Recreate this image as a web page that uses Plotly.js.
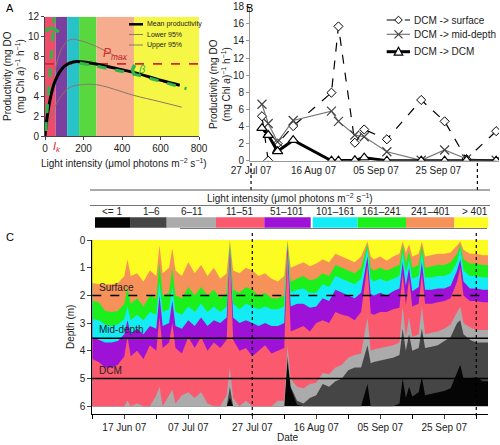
<!DOCTYPE html>
<html><head><meta charset="utf-8">
<script src="https://cdn.plot.ly/plotly-3.0.1.min.js"></script>
<style>html,body{margin:0;padding:0;background:#fff}#chart{width:500px;height:445px}</style>
</head><body><div id="chart"></div>
<script>
// ---------- Panel A data ----------
const lightMean = [0,5,15,30,50,75,100,130,165,200,250,300,370,460,550,620,700];
const meanProd  = [0,1.0,2.4,4.0,5.4,6.4,7.0,7.35,7.5,7.45,7.3,7.1,6.8,6.4,5.9,5.5,5.1];
const lightLower = [0,20,43,87,130,216,286,360,459,597,710];
const lower95    = [0,1.3,2.6,4.1,4.9,5.2,5.1,4.7,4.1,3.45,2.9];
const lightUpper = [0,26,52,87,130,182,268,355,424];
const upper95    = [0,3.6,6.6,8.8,9.7,9.6,9.0,8.15,7.7];
const alphaX = [3,48], alphaY = [0.5,12];
const betaX = [180,467,735], betaY = [7.35,6.2,4.75];
const alphaArcX = [0,35,72], alphaArcY = [10.55,10.85,10.45];
const betaArcX = [467,455,467], betaArcY = [7.15,6.65,6.1];
const pmax = 7.25;
const bandEdgesA = [0,55,115,177,267,462,800];
const bandColorsA = ['#f14b6b','#7b3f9f','#27c3c8','#58d83e','#f5ad8d','#f6f646'];

// ---------- Panel B data ----------
const sampleDates = ['2007-07-30 12:00','2007-08-01 12:00','2007-08-04 12:00','2007-08-09 12:00','2007-08-21 18:00','2007-08-24 00:00','2007-08-29 06:00','2007-09-01 06:00','2007-09-08 12:00','2007-09-19 12:00','2007-09-27 00:00','2007-10-04 00:00','2007-10-13 12:00'];
const dcmToSurface = [5.2,0,2.0,4.05,7.95,15.7,2.1,3.65,2.5,7.1,4.6,0.2,3.45];
const dcmToMid     = [6.6,4.35,2.2,4.7,5.8,4.6,3.0,2.8,1.05,0.05,1.25,0.2,0.05];
const dcmToDcm     = [3.8,3.0,1.1,2.4,0,0,0.05,0.35,0,0,0,0.05,0];
const seriesNamesB = ['DCM -&gt; surface','DCM -&gt; mid-depth','DCM -&gt; DCM'];

// ---------- Panel C data (depth of lower edge of each light class) ----------
const cDates = ['2007-06-07','2007-06-09','2007-06-11','2007-06-13','2007-06-15','2007-06-17','2007-06-18','2007-06-19','2007-06-21','2007-06-23','2007-06-25','2007-06-27','2007-06-28','2007-06-29','2007-07-01','2007-07-02','2007-07-03','2007-07-05','2007-07-07','2007-07-09','2007-07-11','2007-07-13','2007-07-15','2007-07-17','2007-07-19','2007-07-20','2007-07-21','2007-07-23','2007-07-25','2007-07-27','2007-07-29','2007-07-31','2007-08-02','2007-08-04','2007-08-06','2007-08-07','2007-08-08','2007-08-10','2007-08-12','2007-08-14','2007-08-16','2007-08-18','2007-08-20','2007-08-22','2007-08-24','2007-08-26','2007-08-28','2007-08-30','2007-09-01','2007-09-02','2007-09-03','2007-09-05','2007-09-07','2007-09-09','2007-09-11','2007-09-12','2007-09-13','2007-09-14','2007-09-15','2007-09-17','2007-09-18','2007-09-19','2007-09-21','2007-09-23','2007-09-25','2007-09-27','2007-09-29','2007-09-30','2007-10-01','2007-10-03','2007-10-05','2007-10-07','2007-10-08 16:00'];
const over401 = [1.55,1.6,1.6,1.6,1.55,1.3,0.7,1.3,1.2,1.5,1.1,1.3,0.2,1.2,1.0,0.3,1.1,1.3,0.8,1.2,0.9,1.3,1.0,1.4,1.2,0.0,1.1,1.2,1.0,1.1,1.3,1.2,1.4,1.5,1.3,0.0,1.0,0.9,0.8,0.95,0.85,0.7,0.8,0.5,0.6,0.7,0.8,0.6,0.05,0.6,0.7,0.6,0.75,0.6,0.5,0.05,0.45,0.15,0.6,0.5,0.05,0.6,0.55,0.5,0.5,0.45,0.2,0.05,0.35,0.5,0.5,0.55,0.55];
const c241_401 = [2.2,2.25,2.55,2.6,2.55,2.3,1.7,2.3,2.1,2.4,2.0,2.1,0.8,2.0,1.9,1.0,2.0,2.1,1.7,2.0,1.7,2.0,1.8,2.1,1.9,0.05,1.8,1.9,1.7,1.8,2.0,1.9,2.1,2.1,2.0,0.05,1.5,1.4,1.3,1.45,1.4,1.2,1.3,0.9,1.0,1.1,1.2,1.0,0.15,1.0,1.1,1.0,1.1,1.0,0.9,0.15,0.85,0.4,1.0,0.9,0.15,1.0,0.95,0.9,0.9,0.8,0.5,0.15,0.7,0.85,0.85,0.9,0.9];
const c161_241 = [2.85,2.9,3.05,3.1,3.05,2.85,2.4,2.9,2.7,2.9,2.6,2.7,1.5,2.6,2.5,1.7,2.6,2.7,2.4,2.6,2.3,2.6,2.4,2.6,2.4,0.1,2.3,2.5,2.3,2.4,2.5,2.4,2.5,2.5,2.4,0.1,1.9,1.8,1.75,1.9,1.9,1.6,1.7,1.3,1.4,1.5,1.6,1.4,0.3,1.4,1.5,1.4,1.5,1.4,1.3,0.45,1.2,0.7,1.4,1.3,0.45,1.35,1.35,1.3,1.3,1.2,0.8,0.3,1.1,1.3,1.3,1.35,1.35];
const c101_161 = [3.5,3.6,3.7,3.7,3.65,3.4,2.9,3.4,3.2,3.4,3.1,3.2,2.0,3.1,3.0,2.2,3.1,3.2,2.9,3.1,2.8,3.1,2.9,3.0,2.8,0.15,2.8,3.0,2.9,3.0,3.1,3.0,3.1,3.1,3.0,0.15,2.4,2.3,2.3,2.45,2.4,2.1,2.2,1.8,1.9,2.0,2.1,1.9,0.6,1.95,2.0,1.9,2.0,1.85,1.75,0.8,1.65,1.0,1.85,1.7,0.8,1.8,1.8,1.75,1.75,1.65,1.1,0.7,1.5,1.75,1.75,1.8,1.8];
const c51_101 = [4.3,4.4,4.6,4.6,4.5,4.2,3.5,4.2,4.0,4.3,3.8,4.0,2.8,3.9,3.7,3.0,3.9,4.1,3.5,3.9,3.5,4.0,3.7,3.9,3.6,0.25,3.6,4.0,3.9,4.2,4.0,3.8,4.1,4.0,3.9,0.3,3.3,3.2,3.1,3.3,3.0,2.9,3.0,2.6,2.7,2.75,2.9,2.6,0.9,2.65,2.7,2.6,2.6,2.5,2.45,1.2,2.35,1.4,2.4,2.3,1.2,2.3,2.3,2.25,2.2,2.1,1.5,1.0,2.0,2.2,2.2,2.25,2.25];
const c11_51 = [6,6,6,6,6,6,5.8,6,5.9,6,6,5.6,5.3,6,5.6,5.4,5.9,5.6,5.5,5.7,5.5,5.9,6,6,5.6,4.6,5.7,6,5.8,6,6,6,6,5.8,5.8,3.8,5.0,5.3,5.35,5.2,5.15,4.8,4.85,4.6,4.5,4.25,4.15,4.1,2.8,4.0,3.95,3.9,3.85,3.8,3.7,2.4,3.5,2.8,3.5,3.4,2.4,3.4,3.35,3.3,3.2,3.05,2.6,2.4,3.0,3.15,3.25,3.25,3.25];
const c6_11 = [6,6,6,6,6,6,6,6,6,6,6,6,6,6,6,6,6,6,6,6,6,6,6,6,6,5.3,6,6,6,6,6,6,6,6,6,4.2,5.3,5.8,5.9,5.7,5.6,5.2,5.3,5.1,5.0,4.7,4.6,4.6,3.8,4.45,4.4,4.35,4.3,4.25,4.15,3.2,4.0,3.4,4.0,3.9,3.2,3.9,3.85,3.8,3.65,3.5,3.0,2.9,3.4,3.6,3.7,3.7,3.7];
const c1_6 = [6,6,6,6,6,6,6,6,6,6,6,6,6,6,6,6,6,6,6,6,6,6,6,6,6,5.7,6,6,6,6,6,6,6,6,6,4.4,5.35,5.95,6,6,6,6,6,6,6,6,6,6,5.2,6,6,6,6,6,5.9,5.0,5.7,5.3,5.65,5.5,4.95,5.6,5.55,5.5,5.45,5.35,4.8,4.5,5.0,5.0,4.95,5.1,5.1];
const floorDepth = 6.0;
const surfaceDepth = 2.0, midDepth = 3.55, dcmDepth = 5.0;

const classLabels = ['&lt;= 1','1–6','6–11','11–51','51–101','101–161','161–241','241–401','&gt; 401'];
const classColors = ['#050505','#454545','#ababab','#fb5a6e','#9d12d6','#14ecf5','#1cf01c','#f7915a','#fcfc22'];

// ---------- helpers (pixel -> paper) ----------
const W = 500, H = 445;
const px = v => v / W, py = v => 1 - v / H;
const FONT = 'Liberation Sans, Arial, sans-serif';
const pathPx = pts => 'M ' + pts.map(p => px(p[0]).toFixed(5) + ',' + py(p[1]).toFixed(5)).join(' L ') + ' Z';

const traces = [];
// Panel A
traces.push({x: lightLower, y: lower95, xaxis:'x', yaxis:'y', mode:'lines', line:{color:'#8a7866', width:1, shape:'spline'}, showlegend:false, hoverinfo:'skip'});
traces.push({x: lightUpper, y: upper95, xaxis:'x', yaxis:'y', mode:'lines', line:{color:'#8a7866', width:1, shape:'spline'}, showlegend:false, hoverinfo:'skip'});
traces.push({x: lightMean, y: meanProd, xaxis:'x', yaxis:'y', mode:'lines', line:{color:'#000', width:3, shape:'spline', smoothing:0.6}, showlegend:false, hoverinfo:'skip'});
traces.push({x: alphaX, y: alphaY, xaxis:'x', yaxis:'y', mode:'lines', line:{color:'#2fb54a', width:3, dash:'dash'}, showlegend:false, hoverinfo:'skip'});
traces.push({x: betaX, y: betaY, xaxis:'x', yaxis:'y', mode:'lines', line:{color:'#2fb54a', width:3, dash:'dash', shape:'spline'}, showlegend:false, hoverinfo:'skip'});
traces.push({x: alphaArcX, y: alphaArcY, xaxis:'x', yaxis:'y', mode:'lines', line:{color:'#2fb54a', width:3.5, shape:'spline'}, showlegend:false, hoverinfo:'skip'});
traces.push({x: betaArcX, y: betaArcY, xaxis:'x', yaxis:'y', mode:'lines', line:{color:'#2fb54a', width:3.5, shape:'spline'}, showlegend:false, hoverinfo:'skip'});

// Panel B
traces.push({x: sampleDates, y: dcmToSurface, xaxis:'x2', yaxis:'y2', mode:'lines+markers', name:seriesNamesB[0], showlegend:false,
  line:{color:'#000', width:1.2, dash:'dash'}, marker:{symbol:'diamond', size:7, color:'#fff', line:{color:'#000', width:1}}});
traces.push({x: sampleDates, y: dcmToMid, xaxis:'x2', yaxis:'y2', mode:'lines+markers', name:seriesNamesB[1], showlegend:false,
  line:{color:'#777', width:1.2}, marker:{symbol:'x-thin', size:9, color:'#444', line:{color:'#444', width:1.2}}});
traces.push({x: sampleDates, y: dcmToDcm, xaxis:'x2', yaxis:'y2', mode:'lines+markers', name:seriesNamesB[2], showlegend:false,
  line:{color:'#000', width:3}, marker:{symbol:'triangle-up', size:9, color:'#fff', line:{color:'#000', width:1.2}}});

// Panel C stacked light-class areas
const floorArr = cDates.map(() => floorDepth);
const cLayers = [floorArr, c1_6, c6_11, c11_51, c51_101, c101_161, c161_241, c241_401, over401];
cLayers.forEach((arr, i) => {
  traces.push({x: cDates, y: arr, xaxis:'x3', yaxis:'y3', mode:'lines', line:{width:0, color:classColors[i]},
    fill:'tozeroy', fillcolor:classColors[i], showlegend:false, hoverinfo:'skip'});
});

const shapes = [];
const annotations = [];
const note = (o) => annotations.push(Object.assign({showarrow:false, xanchor:'center', yanchor:'middle'}, o));

bandColorsA.forEach((c, i) => shapes.push({type:'rect', xref:'x', yref:'y', x0:bandEdgesA[i], x1:bandEdgesA[i+1], y0:0, y1:12, fillcolor:c, line:{width:0}, layer:'below'}));
shapes.push({type:'line', xref:'x', yref:'y', x0:0, x1:800, y0:pmax, y1:pmax, line:{color:'#d8262a', width:1.8, dash:'dash'}, layer:'below'});
// A legend (drawn by hand: samples + labels)
shapes.push({type:'line', xref:'paper', yref:'paper', x0:px(129), x1:px(143), y0:py(24.3), y1:py(24.3), line:{color:'#000', width:2.5}});
shapes.push({type:'line', xref:'paper', yref:'paper', x0:px(129), x1:px(143), y0:py(34.5), y1:py(34.5), line:{color:'#8a7866', width:1}});
shapes.push({type:'line', xref:'paper', yref:'paper', x0:px(129), x1:px(143), y0:py(45), y1:py(45), line:{color:'#8a7866', width:1}});
note({xref:'paper', yref:'paper', x:px(145), y:py(24.3), text:'Mean productivity', xanchor:'left', font:{size:7, color:'#222'}});
note({xref:'paper', yref:'paper', x:px(145), y:py(34.5), text:'Lower 95%', xanchor:'left', font:{size:7, color:'#222'}});
note({xref:'paper', yref:'paper', x:px(145), y:py(45), text:'Upper 95%', xanchor:'left', font:{size:7, color:'#222'}});
// B legend (drawn by hand)
const legY = [20, 34.3, 51.7], legX0 = 386.7, legX1 = 410, legM = 398.5;
shapes.push({type:'line', xref:'paper', yref:'paper', x0:px(legX0), x1:px(legX1), y0:py(legY[0]), y1:py(legY[0]), line:{color:'#000', width:1.2, dash:'dash'}});
shapes.push({type:'path', xref:'paper', yref:'paper', path:pathPx([[legM,legY[0]-3.8],[legM+3.8,legY[0]],[legM,legY[0]+3.8],[legM-3.8,legY[0]]]), fillcolor:'#fff', line:{color:'#000', width:1}});
shapes.push({type:'line', xref:'paper', yref:'paper', x0:px(legX0), x1:px(legX1), y0:py(legY[1]), y1:py(legY[1]), line:{color:'#777', width:1.2}});
shapes.push({type:'line', xref:'paper', yref:'paper', x0:px(legM-4), x1:px(legM+4), y0:py(legY[1]-4), y1:py(legY[1]+4), line:{color:'#444', width:1.2}});
shapes.push({type:'line', xref:'paper', yref:'paper', x0:px(legM-4), x1:px(legM+4), y0:py(legY[1]+4), y1:py(legY[1]-4), line:{color:'#444', width:1.2}});
shapes.push({type:'line', xref:'paper', yref:'paper', x0:px(legX0), x1:px(legX1), y0:py(legY[2]), y1:py(legY[2]), line:{color:'#000', width:3}});
shapes.push({type:'path', xref:'paper', yref:'paper', path:pathPx([[legM-4.3,legY[2]+3.5],[legM+4.3,legY[2]+3.5],[legM,legY[2]-4.5]]), fillcolor:'#fff', line:{color:'#000', width:1.2}});
seriesNamesB.forEach((t, i) => note({xref:'paper', yref:'paper', x:px(411.7), y:py(legY[i]), text:t, xanchor:'left', font:{size:10, color:'#222'}}));

// C reference depth lines
shapes.push({type:'line', xref:'x3 domain', yref:'y3', x0:0, x1:1, y0:surfaceDepth, y1:surfaceDepth, line:{color:'#000', width:1.5, dash:'dash'}});
shapes.push({type:'line', xref:'x3 domain', yref:'y3', x0:0, x1:1, y0:midDepth, y1:midDepth, line:{color:'#000', width:1.5}});
shapes.push({type:'line', xref:'x3 domain', yref:'y3', x0:0, x1:1, y0:dcmDepth, y1:dcmDepth, line:{color:'#000', width:1.5}});
// dotted period markers
shapes.push({type:'line', xref:'x2', yref:'paper', x0:'2007-07-27', x1:'2007-07-27', y0:py(190), y1:py(160.7), line:{color:'#000', width:1.2, dash:'dot'}});
shapes.push({type:'line', xref:'x2', yref:'paper', x0:'2007-10-07 12:00', x1:'2007-10-07 12:00', y0:py(190), y1:py(160.7), line:{color:'#000', width:1.2, dash:'dot'}});
shapes.push({type:'line', xref:'x3', yref:'paper', x0:'2007-07-27', x1:'2007-07-27', y0:py(416), y1:py(231.7), line:{color:'#000', width:1.2, dash:'dot'}});
shapes.push({type:'line', xref:'x3', yref:'paper', x0:'2007-10-05', x1:'2007-10-05', y0:py(416), y1:py(231.7), line:{color:'#000', width:1.2, dash:'dot'}});
// light-class key box
shapes.push({type:'line', xref:'paper', yref:'paper', x0:px(90), x1:px(490), y0:py(190), y1:py(190), line:{color:'#555', width:1}});
shapes.push({type:'line', xref:'paper', yref:'paper', x0:px(90), x1:px(490), y0:py(205.5), y1:py(205.5), line:{color:'#777', width:1}});
shapes.push({type:'line', xref:'paper', yref:'paper', x0:px(180), x1:px(487), y0:py(228.5), y1:py(228.5), line:{color:'#777', width:1}});
const keyEdges = [[95,130.7],[130.7,166.7],[166.7,216],[216,264.3],[264.3,310.7],[312.7,357.7],[357.7,406],[406,454.3],[454.3,488.3]];
keyEdges.forEach((e, i) => {
  shapes.push({type:'rect', xref:'paper', yref:'paper', x0:px(e[0]), x1:px(e[1]), y0:py(227.7), y1:py(217.3), fillcolor:classColors[i], line:{width:0}});
});
const keyLabelX = [111.7,151,191.7,240,286.7,335,381.7,430,475];
classLabels.forEach((t, i) => note({xref:'paper', yref:'paper', x:px(keyLabelX[i]), y:py(211.5), text:t, font:{size:10, color:'#222'}}));
note({xref:'paper', yref:'paper', x:px(290), y:py(198), text:'Light intensity (μmol photons m<sup>−2</sup> s<sup>−1</sup>)', font:{size:10, color:'#222'}});

// panel letters
note({xref:'paper', yref:'paper', x:px(10), y:py(8), text:'A', font:{size:11, color:'#000'}});
note({xref:'paper', yref:'paper', x:px(249), y:py(8), text:'B', font:{size:11, color:'#000'}});
note({xref:'paper', yref:'paper', x:px(10), y:py(237), text:'C', font:{size:11, color:'#000'}});
// axis titles
const prodTitle = 'Productivity (mg DO<br>(mg Chl <i>a</i>)<sup>−1</sup> h<sup>−1</sup>)';
note({xref:'paper', yref:'paper', x:px(14), y:py(76), text:prodTitle, textangle:-90, font:{size:10, color:'#222'}});
note({xref:'paper', yref:'paper', x:px(220), y:py(84), text:prodTitle, textangle:-90, font:{size:10, color:'#222'}});
note({xref:'paper', yref:'paper', x:px(124), y:py(163), text:'Light intensity (μmol photons m<sup>−2</sup> s<sup>−1</sup>)', font:{size:10, color:'#222'}});
note({xref:'paper', yref:'paper', x:px(70), y:py(327), text:'Depth (m)', textangle:-90, font:{size:10, color:'#222'}});
note({xref:'paper', yref:'paper', x:px(288), y:py(437), text:'Date', font:{size:10, color:'#222'}});
// A symbols
note({xref:'x', yref:'y', x:42, y:12.2, text:'<i>α</i>', font:{size:11, color:'#2fb54a'}});
note({xref:'x', yref:'y', x:364, y:8.2, text:'<i>P</i><sub><i>max</i></sub>', font:{size:12, color:'#d8262a'}});
note({xref:'x', yref:'y', x:505, y:6.7, text:'<i>β</i>', font:{size:11, color:'#2fb54a'}});
note({xref:'x', yref:'paper', x:62, y:py(147), text:'<i>I</i><sub><i>k</i></sub>', font:{size:11, color:'#d8262a'}});
// C depth labels
note({xref:'x3 domain', yref:'y3', x:0.012, y:1.7, text:'Surface', xanchor:'left', font:{size:10, color:'#222'}});
note({xref:'x3 domain', yref:'y3', x:0.012, y:3.22, text:'Mid-depth', xanchor:'left', font:{size:10, color:'#222'}});
note({xref:'x3 domain', yref:'y3', x:0.012, y:4.72, text:'DCM', xanchor:'left', font:{size:10, color:'#222'}});

const ax = {showgrid:false, zeroline:false, fixedrange:true, tickfont:{size:10, color:'#222'}, automargin:false};
const layout = {
  width: W, height: H, margin:{l:0, r:0, t:0, b:0}, paper_bgcolor:'#fff', plot_bgcolor:'rgba(0,0,0,0)',
  font:{family:FONT, size:10, color:'#222'}, showlegend:false,
  xaxis: Object.assign({}, ax, {domain:[px(45), px(199)], range:[0,800], tickvals:[0,200,400,600,800], ticks:'outside', ticklen:3, showline:true, linecolor:'#444', anchor:'y'}),
  yaxis: Object.assign({}, ax, {domain:[py(136), py(16.7)], range:[0,12], dtick:2, ticks:'outside', ticklen:3, showline:true, linecolor:'#444', anchor:'x'}),
  xaxis2: Object.assign({}, ax, {type:'date', domain:[px(250), px(499)], range:['2007-07-26 16:00','2007-10-14 10:00'], tickvals:['2007-07-27','2007-08-16','2007-09-05','2007-09-25'], tickformat:'%d %b %y', ticks:'', showline:true, linecolor:'#999', anchor:'y2'}),
  yaxis2: Object.assign({}, ax, {domain:[py(160.7), py(6.7)], range:[0,18], dtick:2, ticks:'outside', ticklen:3, showline:true, linecolor:'#999', tickcolor:'#999', anchor:'x2'}),
  xaxis3: Object.assign({}, ax, {type:'date', domain:[px(92.3), px(488)], range:['2007-06-07','2007-10-08 16:00'], tick0:'2007-06-17', dtick:1728000000, tickformat:'%d %b %y', ticks:'outside', ticklen:4, showline:true, linecolor:'#000', anchor:'y3',
     minor:{dtick:864000000, tick0:'2007-06-07', ticks:'outside', ticklen:4, tickcolor:'#000'}}),
  yaxis3: Object.assign({}, ax, {domain:[py(413.7), py(240)], range:[6.27,0], dtick:1, ticks:'outside', ticklen:4, showline:true, linecolor:'#000', anchor:'x3'}),
  shapes: shapes, annotations: annotations
};
Plotly.newPlot('chart', traces, layout, {staticPlot:true, displayModeBar:false});
</script></body></html>
